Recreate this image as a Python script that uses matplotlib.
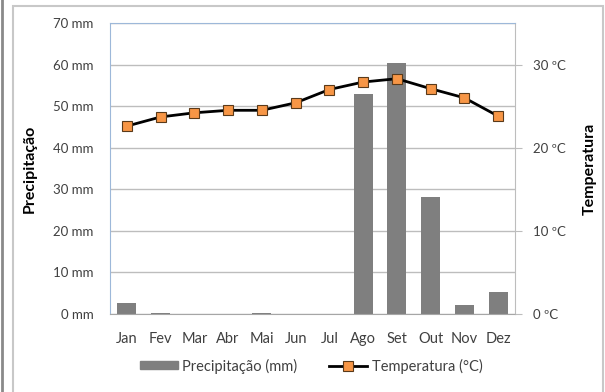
import matplotlib
matplotlib.use("Agg")
import matplotlib.pyplot as plt
from matplotlib.patches import Rectangle
from matplotlib.lines import Line2D
import numpy as np

months = ["Jan", "Fev", "Mar", "Abr", "Mai", "Jun", "Jul", "Ago", "Set", "Out", "Nov", "Dez"]
precip_mm = [2.6, 0.3, 0.0, 0.0, 0.3, 0.0, 0.0, 52.9, 60.3, 28.2, 2.2, 5.3]
temp_c = [22.6, 23.7, 24.2, 24.5, 24.5, 25.4, 27.0, 27.9, 28.3, 27.1, 26.0, 23.8]
precip_ticks = [0, 10, 20, 30, 40, 50, 60, 70]
temp_ticks = [0, 10, 20, 30]

plt.rcParams['font.family'] = ['Lato', 'DejaVu Sans']
txt = "#404040"

fig = plt.figure(figsize=(6.05, 3.92), dpi=100)
fig.patch.set_facecolor("white")

# chart frame
fig.add_artist(Rectangle((13 / 605, -0.05), (603 - 13) / 605, 1.05 - 6 / 392,
                         transform=fig.transFigure, fill=False,
                         edgecolor="#c8c8c8", linewidth=1.5))
fig.add_artist(Line2D([1.5 / 605, 1.5 / 605], [0, 1], transform=fig.transFigure,
                      color="#8a8a8a", linewidth=2))

ax = fig.add_axes([110 / 605, 1 - 314 / 392, 405 / 605, 291 / 392])
x = np.arange(len(months))
ax.bar(x, precip_mm, width=0.56, color="#7f7f7f", zorder=2)
ax.set_xlim(-0.5, 11.5)
ax.set_ylim(0, 70)
ax.set_yticks(precip_ticks)
ax.set_yticklabels([f"{v} mm" for v in precip_ticks], fontsize=9.5, color=txt)
ax.set_xticks(x)
ax.set_xticklabels(months, fontsize=10.5, color=txt)
ax.tick_params(axis="x", length=0, pad=13)
ax.tick_params(axis="y", length=0, pad=12)
ax.grid(axis="y", color="#bdbdbd", linewidth=1, zorder=0)
ax.set_axisbelow(True)
ax.spines["left"].set_color("#9db8d9")
ax.spines["top"].set_color("#9db8d9")
ax.spines["right"].set_color("#bdbdbd")
ax.spines["bottom"].set_color("#a6a6a6")
ax.set_ylabel("Precipitação", fontsize=11.5, fontweight="bold", color="black")
ax.yaxis.set_label_coords(-0.18, 0.5)

ax2 = ax.twinx()
ax2.plot(x, temp_c, color="black", linewidth=2, marker="s", markersize=7,
         markerfacecolor="#f79646", markeredgecolor="#5a3a1a", markeredgewidth=0.8,
         zorder=3)
ax2.set_ylim(0, 35)
ax2.set_yticks(temp_ticks)
ax2.set_yticklabels([f"{v} ºC" for v in temp_ticks], fontsize=9.5, color=txt)
ax2.tick_params(axis="y", length=5, color="#bdbdbd", pad=8)
for s in ax2.spines.values():
    s.set_visible(False)
ax2.set_ylabel("Temperatura", fontsize=11.5, fontweight="bold", color="black")
ax2.yaxis.set_label_coords(1.168, 0.5)

handles = [Rectangle((0, 0), 1, 1, color="#7f7f7f"),
           Line2D([], [], color="black", linewidth=2, marker="s", markersize=7,
                  markerfacecolor="#f79646", markeredgecolor="#5a3a1a", markeredgewidth=0.8)]
leg = fig.legend(handles, ["Precipitação (mm)", "Temperatura (°C)"],
                 loc="center", bbox_to_anchor=(311 / 605, 1 - 366 / 392), ncol=2,
                 frameon=False, fontsize=10.5, handlelength=2.6, handleheight=0.45,
                 columnspacing=2.2, handletextpad=0.3)
for t in leg.get_texts():
    t.set_color(txt)

fig.savefig("out.png", dpi=100)
